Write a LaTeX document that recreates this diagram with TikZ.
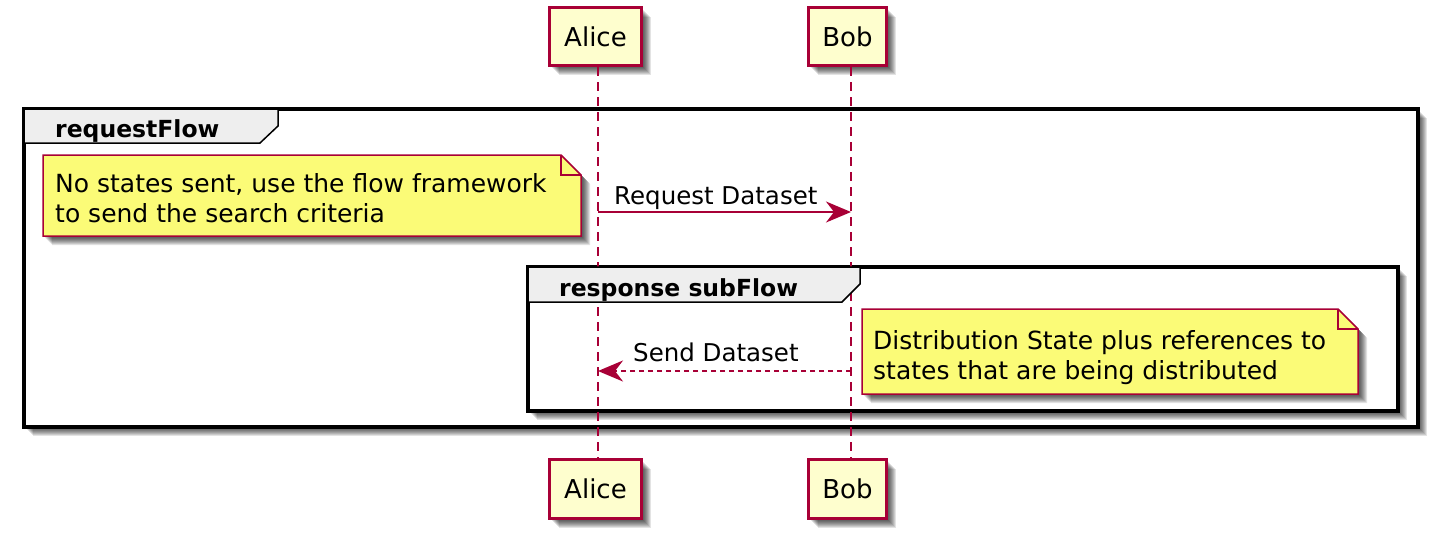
\documentclass[tikz,border=0pt]{standalone}
\usepackage{fontspec}
\setmainfont{DejaVu Sans}
\usetikzlibrary{arrows.meta,shadows}
\definecolor{pred}{HTML}{A80036}
\definecolor{pfill}{HTML}{FEFECE}
\definecolor{nfill}{HTML}{FBFB77}
\definecolor{tabfill}{HTML}{EEEEEE}
\tikzset{
  sh/.style={drop shadow={shadow xshift=#1,shadow yshift=-#1,opacity=0.11,fill=black}},
  shad/.style={sh=2pt,sh=3pt,sh=4pt,sh=5pt,sh=6pt,sh=7pt,sh=8pt,sh=9pt},
  part/.style={draw=pred,line width=3pt,fill=pfill,inner sep=0pt,
    font=\fontsize{26}{30}\selectfont,shad},
  life/.style={draw=pred,line width=1.5pt,dash pattern=on 9pt off 6pt},
  msg/.style={draw=pred,line width=1.5pt,-{Stealth[length=25pt,width=21pt,inset=8pt]}},
  dmsg/.style={msg,dash pattern=on 5pt off 4pt},
  frame/.style={draw=black,line width=3.5pt,fill=white,shad},
  tab/.style={draw=black,line width=1.5pt,fill=tabfill},
  note/.style={draw=pred,line width=1.5pt,fill=nfill,shad},
  fold/.style={draw=pred,line width=1.5pt},
  ntext/.style={anchor=base west,inner sep=0pt,font=\fontsize{25}{30}\selectfont},
  mtext/.style={anchor=base west,inner sep=0pt,font=\fontsize{24.5}{30}\selectfont},
  ttext/.style={anchor=base west,inner sep=0pt,font=\bfseries\fontsize{23.5}{30}\selectfont},
}
\begin{document}
\begin{tikzpicture}[x=1pt,y=-1pt]
\useasboundingbox (0,0) rectangle (1437,539);
% frames
\draw[frame] (24,109) rectangle (1418,427);
\draw[frame] (528,267) rectangle (1398,411);
% participants
\node[part,minimum width=92pt,minimum height=58pt] (aliceT) at (595.5,36.5) {Alice};
\node[part,minimum width=78pt,minimum height=58pt] (bobT) at (847.5,36.5) {Bob};
\node[part,minimum width=92pt,minimum height=59pt] (aliceB) at (595.5,489) {Alice};
\node[part,minimum width=78pt,minimum height=59pt] (bobB) at (847.5,489) {Bob};
% lifelines
\draw[life] ([xshift=2.5pt]aliceT.south) -- ([xshift=2.5pt]aliceB.north);
\draw[life] ([xshift=3.5pt]bobT.south) -- ([xshift=3.5pt]bobB.north);
% tabs
\draw[tab] (24,109) -- (278,109) -- (278,126) -- (260,143) -- (24,143) -- cycle;
\node[ttext] (t1) at (55,137) {requestFlow};
\draw[tab] (528,267) -- (860,267) -- (860,284) -- (842,302) -- (528,302) -- cycle;
\node[ttext] (t2) at (559,296) {response subFlow};
% note 1
\draw[note] (43,155) -- (561,155) -- (581,175) -- (581,236) -- (43,236) -- cycle;
\draw[fold] (561,155) -- (561,175) -- (581,175);
\node[ntext] (n1a) at (55,192) {No states sent, use the flow framework};
\node[ntext] (n1b) at (55,222) {to send the search criteria};
% note 2
\draw[note] (862,309) -- (1338,309) -- (1358,329) -- (1358,394) -- (862,394) -- cycle;
\draw[fold] (1338,309) -- (1338,329) -- (1358,329);
\node[ntext] (n2a) at (873,349) {Distribution State plus references to};
\node[ntext] (n2b) at (873,379) {states that are being distributed};
% messages
\coordinate (m1a) at (598,212);
\coordinate (m1b) at (851,212);
\draw[msg] (m1a) -- (m1b);
\node[mtext] (l1) at (614,204) {Request Dataset};
\coordinate (m2a) at (598,371);
\coordinate (m2b) at (851,371);
\draw[dmsg] (m2b) -- (m2a);
\node[mtext] (l2) at (633,361) {Send Dataset};
\end{tikzpicture}
\end{document}
